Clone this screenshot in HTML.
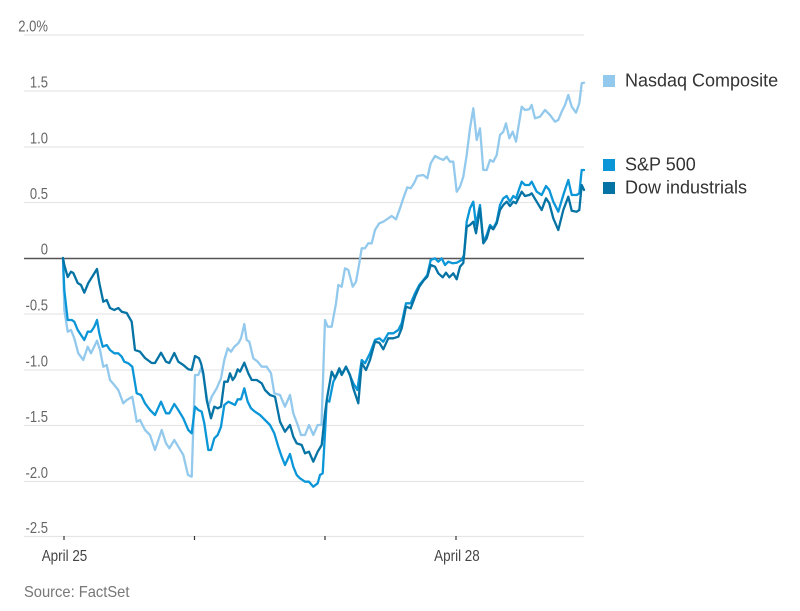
<!DOCTYPE html>
<html><head><meta charset="utf-8"><style>
html,body{margin:0;padding:0;background:#fff;}
body{width:800px;height:611px;overflow:hidden;}
svg{display:block;}
text{font-family:"Liberation Sans",Arial,sans-serif;}
</style></head><body>
<svg width="800" height="611" viewBox="0 0 800 611" xmlns="http://www.w3.org/2000/svg">
<g stroke="#e6e6e6" stroke-width="1.3">
<line x1="24" y1="35" x2="584" y2="35"/>
<line x1="24" y1="91" x2="584" y2="91"/>
<line x1="24" y1="147" x2="584" y2="147"/>
<line x1="24" y1="202.5" x2="584" y2="202.5"/>
<line x1="24" y1="314" x2="584" y2="314"/>
<line x1="24" y1="370" x2="584" y2="370"/>
<line x1="24" y1="425.5" x2="584" y2="425.5"/>
<line x1="24" y1="481.5" x2="584" y2="481.5"/>
<line x1="24" y1="536.5" x2="584" y2="536.5"/>
</g>
<line x1="24" y1="258.5" x2="584" y2="258.5" stroke="#555" stroke-width="1.4"/>
<g stroke="#333" stroke-width="1.2">
<line x1="64" y1="536" x2="64" y2="540"/>
<line x1="194.5" y1="536" x2="194.5" y2="540"/>
<line x1="325" y1="536" x2="325" y2="540"/>
<line x1="456" y1="536" x2="456" y2="540"/>
</g>
<g transform="scale(0.84 1)" font-size="15.5" fill="#666" text-anchor="end">
<text x="57.1" y="31.5">2.0<tspan text-anchor="start">%</tspan></text>
<text x="57.1" y="87.5">1.5</text>
<text x="57.1" y="143.5">1.0</text>
<text x="57.1" y="199">0.5</text>
<text x="57.1" y="254.5">0</text>
<text x="57.1" y="310.5">-0.5</text>
<text x="57.1" y="366.5">-1.0</text>
<text x="57.1" y="422">-1.5</text>
<text x="57.1" y="478">-2.0</text>
<text x="57.1" y="533">-2.5</text>
</g>
<g transform="scale(0.84 1)" font-size="16" fill="#444" text-anchor="middle">
<text x="76.8" y="561">April 25</text>
<text x="544" y="561">April 28</text>
</g>
<text transform="scale(0.92 1)" x="26.1" y="597" font-size="16" fill="#777">Source: FactSet</text>
<g fill="none" stroke-width="2.3" stroke-linejoin="round" stroke-linecap="round">
<polyline stroke="#93c9ec" points="63,258 64.3,310 67.7,331.7 71,330 74.3,338.3 78.3,353.3 83.3,360 87.7,346.7 91,353.3 97,340.7 100,350 103.3,366.7 106.7,365 110,380 114.3,385 118.3,390 123.3,403.3 126.7,400 132.3,396.7 136.7,421.7 140,420 145,430 150,435 155,450 161.7,430 166,443.3 169.3,448.3 174.3,440 178.3,446.7 183.3,455 188,475 191.7,476.7 195,375 198.3,375 201,368.3 203.3,375 205.7,390 208.3,406.7 211.7,396.7 216.7,388.3 221,378.3 224.3,360 227.7,348.3 231,351.7 234.3,346.7 238.3,343.3 241,338.3 244.3,324 246.7,340 249.3,341.7 253.3,358.3 257.7,361.7 261.7,366.7 266.7,366.7 271,373.3 274.3,393.3 280,395 285,406.7 290,395 293.3,413.3 297.7,425 301,435 305,435 309,425 313.3,435 317.7,425 321.5,425 325,320 327.7,326.7 331.7,326.7 336,303.3 338.3,285 341.7,286.7 345,268.3 348.3,270 352.7,286.7 356,281.7 359.3,263.3 361.7,248.3 365,248.3 368.3,243.3 371.7,243.3 375,230 379.3,223.3 383.3,221.7 388.3,218.3 391.7,216 396,219.3 400,208.3 403.3,198.3 407.3,187.3 410.7,188.3 414,183.3 417.3,176 423.3,175 427.3,178.3 430.7,163.3 435,156 439.3,158.3 443.3,160 446.7,156.7 450,161.7 453.3,161.7 456.7,191.7 460,186.7 463.3,176.7 466.7,155 470,128.3 473.3,108.3 476.7,140 480,128.3 483.3,170 486.7,170 490,160 493.3,161.7 496.7,155 500,135 503.3,131.7 506,123.3 509.3,138.3 512.7,131.7 516,141.7 521.7,106.7 525,110 529.3,109.3 531.7,105 535,118.3 540,116.7 545,110 550,115 555,121.7 558.3,120 561.7,111.7 565,105 568.3,95 571.7,106.7 576,112.7 579.3,103.3 581.7,83.3 584,82.7"/>
<polyline stroke="#0b96d8" points="63,258 64.3,290 67.7,320 71.7,320 74.3,321.7 77.7,330 84.3,340 87.7,331.7 91,331.7 94.3,326.7 97,320 99.3,333.3 102.7,346.7 106.7,345 110,350 114.3,353.3 118.3,353.3 121.7,356.7 124.3,361.7 128.3,363.3 132.3,366.7 136.7,393.3 141,395 145,403.3 150,410 155,415 161,401.7 166,413.3 169.3,413.3 174.3,404 178.3,410 183.3,418.3 188.3,430 191.7,433.3 195,406.7 198.3,410 201.7,411.7 204.3,423.3 208.3,450 211,450 214.3,438.3 217.7,435 221,426.7 224.3,405 228.3,401.7 231.7,403.3 235,405 237.7,399.3 241,399.3 244.3,388.3 247.7,401.7 251,408.3 255,411.7 260,415 265,420 270,425 274.3,433.3 278.3,446.7 281.7,456.7 285,465 290,454 293.3,466.7 296.7,475 300,478.3 305,481.7 309,481.7 313.3,486.7 317.7,483.3 320,475 322.7,473.3 325,433 326.7,400 329.3,401.7 333.3,381.7 336,376.7 339.3,370 342.7,373.3 346,366.7 348.3,371.7 353.3,383.3 357.3,390 361.7,360 365,363.3 370,353.3 375,340 379.3,338.3 383.3,341.7 388.3,333.3 393.3,333.3 398.3,330 401.7,323.3 406,303.3 410.7,303.3 415,293.3 419.3,285 424,279.3 427.3,275 430.7,260 435,258.3 438.3,261.7 441.7,258.3 445,265 448.3,261.7 452.7,263.3 456.7,262.7 461.7,260 464,255 466.7,221.7 470,208.3 473.3,201.7 476,225 480,205 483.3,241.7 486.7,235 490,225 493.3,228.3 496.7,221.7 500,205 503.3,198.3 506.7,196 510,201.7 513.3,196 516,198.3 521.7,181.7 525,185 529.3,185 531.7,181.7 536.7,191.7 541.7,195 546,186 549.3,190 553.3,201.7 558.3,211.7 563.3,195 568.3,180 571.7,195 576.7,195 579.3,193.3 581.7,170 584,170"/>
<polyline stroke="#0673a5" points="63,258 64.3,265 67.7,277 71,271.7 73.3,273 77.7,283 81,285 84.3,292.7 88.3,283 97,269 99.3,283 103.3,301.7 106.7,300 110,308 114.3,310 118.3,308 121.7,311.7 126.7,313 131.7,321.7 135,350 140,351.7 145,358 151.7,363 155,363 161,352.7 166,361.7 169.3,363 174.3,353 178.3,361.7 183.3,365 188.3,369.3 191.7,370 195,356 199,358.3 201,363.3 203.3,373.3 206.7,400 211,418.3 214.3,406.7 217.7,408.3 221,406.7 224.3,381.7 227.7,381.7 230,373.3 232.7,380 235,376.7 237.7,369.3 240,371.7 244.3,362.7 248.3,373.3 251.7,380 256.7,380 261.7,383.3 265,390 270,395 275,396.7 280,421.7 285,431.7 290,425 293.3,436.7 296.7,443.3 301.7,445 305,453.3 309,451.7 313.3,461.7 317.7,451.7 321.7,445 325,413.3 327.3,396.7 331.7,371.7 335,378.3 339.3,368.3 341.7,375 346,366.7 350,375 353.3,388.3 358.3,403.3 361.7,363.3 366,370 370,360 375,341.7 379.3,342.7 383.3,349.3 388.3,338.3 393.3,338.3 398.3,336.7 401.7,328.3 406,306.7 410.7,308.3 415,296.7 419.3,286.7 424,280 427.3,276.7 430.7,265 435,266.7 438.3,273.3 442.7,277.3 446,272.7 449.3,277.3 453.3,273.3 456.7,279.3 460,266.7 463.3,263 466.7,226.7 470,225 473.3,221.7 476,233.3 480,208.3 483.3,243.3 486.7,238.3 490,226.7 493.3,229.3 496.7,223.3 500,210 503.3,205 506.7,201.7 510,206 513.3,201.7 516,203.3 521.7,191.7 525,196 529.3,195 531.7,193.3 536.7,201.7 541.7,210 546,198.3 549.3,203.3 553.3,218.3 558.3,230 563.3,210 568.3,196.7 571.7,210.7 576.7,211.7 579.3,210 581.7,185 584,190"/>
</g>
<rect x="603" y="75" width="12" height="12" fill="#93c9ec"/>
<rect x="603" y="159" width="12" height="12" fill="#0b96d8"/>
<rect x="603" y="182" width="12" height="12" fill="#0673a5"/>
<g font-size="18" fill="#333">
<text x="625" y="86.5">Nasdaq Composite</text>
<text x="625" y="170.5">S&amp;P 500</text>
<text x="625" y="193.5">Dow industrials</text>
</g>
</svg>
</body></html>
